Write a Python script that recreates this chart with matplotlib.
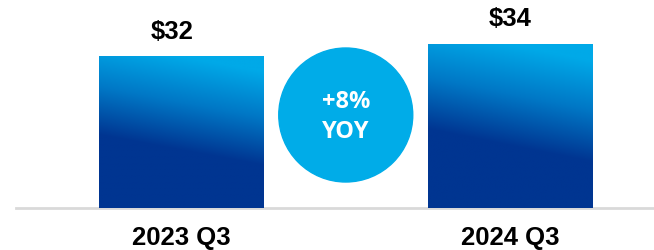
import numpy as np
import matplotlib.pyplot as plt
from matplotlib.colors import LinearSegmentedColormap
from matplotlib.patches import Ellipse

categories = ['2023 Q3', '2024 Q3']
values = [31.8, 34.4]
value_labels = ['$32', '$34']
yoy_lines = ['+8%', 'YOY']

W, H = 654, 251
base_px = 209  # baseline row in pixels
fig = plt.figure(figsize=(W / 100, H / 100), dpi=100)
ax = fig.add_axes([16 / W, (H - base_px) / H, (W - 16) / W, base_px / H])

ymax = values[1] * base_px / (base_px - 45)
x = np.arange(len(categories))

# blue vertical gradient, slightly tilted
cmap = LinearSegmentedColormap.from_list('bluegrad', [
    (0.0, '#00a9e8'), (0.3, '#0078c6'), (0.62, '#003591'), (1.0, '#003591')])
yy = np.linspace(0, 1, 200)[:, None]
xx = np.linspace(0, 1, 100)[None, :]
grad = np.clip(yy + 0.2 * (0.5 - xx), 0, 1)

bars = ax.bar(x, values, width=0.5, color='none', edgecolor='none', zorder=2)
for bar in bars:
    x0, w, h = bar.get_x(), bar.get_width(), bar.get_height()
    img = ax.imshow(grad, extent=[x0, x0 + w, 0, h], cmap=cmap, vmin=0, vmax=1,
                    aspect='auto', origin='upper', zorder=1, interpolation='bilinear')
    img.set_clip_path(bar)

ax.set_xlim(-0.5008, 1.4355)
ax.set_ylim(0, ymax)
ax.axis('off')
ax.axhline(0, color='#d9d9d9', lw=2, zorder=0, clip_on=False)

# value labels above the bars, quarter labels below
dx = [-6.5, 0]
for i in range(len(values)):
    ax.annotate(value_labels[i], (x[i], values[i]), xytext=(dx[i], 18.5),
                textcoords='offset points', ha='center', va='center',
                fontsize=18.5, fontweight='bold', family='Liberation Sans', color='black')
    ax.annotate(categories[i], (x[i], 0), xytext=(0, -21),
                textcoords='offset points', ha='center', va='center',
                fontsize=18.5, fontweight='bold', family='Liberation Sans',
                color='black', annotation_clip=False)

# yoy bubble
cx = 0.5
cy = 93 * ymax / base_px
circ = Ellipse((cx, cy), width=134 / 329.5, height=134 * ymax / base_px,
               color='#00ace8', zorder=3, clip_on=False)
ax.add_patch(circ)
ax.annotate(yoy_lines[0], (cx, cy), xytext=(0, 10.4), textcoords='offset points',
            ha='center', va='center', fontsize=17, fontweight='bold',
            family='Open Sans', color='white', zorder=4)
ax.annotate(yoy_lines[1], (cx, cy), xytext=(0, -11.5), textcoords='offset points',
            ha='center', va='center', fontsize=17, fontweight='bold',
            family='Open Sans', color='white', zorder=4)

fig.savefig('out.png', dpi=100)
